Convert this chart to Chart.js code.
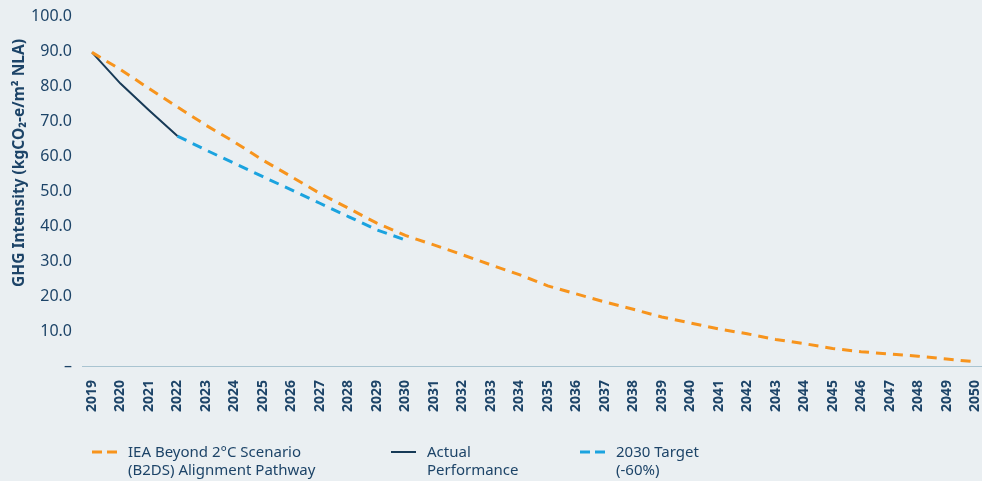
<!DOCTYPE html>
<html>
<head>
<meta charset="utf-8">
<script src="https://cdn.jsdelivr.net/npm/chart.js@4.4.1/dist/chart.umd.min.js"></script>
<style>
  html, body { margin: 0; padding: 0; background: #eaeff2; }
  #wrap { position: relative; width: 982px; height: 481px; overflow: hidden; }
  #chart { position: absolute; left: 0; top: 0; }
  .leg { position: absolute; top: 442px; font-family: 'Noto Sans', sans-serif; font-size: 15px; line-height: 18px; color: #1d4468; }
  .leg svg { position: absolute; left: 0; top: 8px; }
  .leg .tx { position: absolute; left: 36px; top: 0; white-space: nowrap; }
</style>
</head>
<body>
<div id="wrap">
  <canvas id="chart" width="982" height="481"></canvas>
  <div class="leg" style="left:92px"><svg width="25" height="4"><line x1="0" y1="2" x2="25" y2="2" stroke="#f7941d" stroke-width="3" stroke-dasharray="10 5"/></svg><div class="tx">IEA Beyond 2°C Scenario<br>(B2DS) Alignment Pathway</div></div>
  <div class="leg" style="left:391px"><svg width="25" height="4"><line x1="0" y1="2" x2="25" y2="2" stroke="#173a57" stroke-width="2"/></svg><div class="tx">Actual<br>Performance</div></div>
  <div class="leg" style="left:580px"><svg width="25" height="4"><line x1="0" y1="2" x2="25" y2="2" stroke="#1ba3df" stroke-width="3" stroke-dasharray="10 5"/></svg><div class="tx">2030 Target<br>(-60%)</div></div>
</div>
<script>
// GHG intensity pathway vs actual performance

const years = ['2019', '2020', '2021', '2022', '2023', '2024', '2025', '2026', '2027', '2028',
  '2029', '2030', '2031', '2032', '2033', '2034', '2035', '2036', '2037', '2038', '2039',
  '2040', '2041', '2042', '2043', '2044', '2045', '2046', '2047', '2048', '2049', '2050'];

const b2dsPathway = [89.6, 84.7, 79.3, 74.0, 68.8, 64.0, 58.8, 54.1, 49.3, 45.1, 40.8,
  37.3, 34.6, 31.8, 28.9, 26.1, 22.9, 20.6, 18.3, 16.2, 14.0,
  12.3, 10.6, 9.2, 7.6, 6.4, 5.0, 4.1, 3.4, 2.8, 2.0, 1.2];

const actualPerformance = [89.6, 80.7, 73.1, 65.7];

const target2030 = [null, null, null, 65.7, 61.7, 57.9, 54.1, 50.3, 46.5, 42.7, 38.9, 36.0];

const yTitle = 'GHG Intensity (kgCO\u2082-e/m\u00b2 NLA)';
const navy = '#1d4468';

const extras = {
  id: 'extras',
  afterDraw(chart) {
    const ctx = chart.ctx;
    const y0 = chart.scales.y.getPixelForValue(0);
    ctx.save();
    ctx.strokeStyle = '#a9c4d1';
    ctx.lineWidth = 1;
    ctx.beginPath();
    ctx.moveTo(82, Math.round(y0) + 0.5);
    ctx.lineTo(982, Math.round(y0) + 0.5);
    ctx.stroke();
    ctx.translate(20, 163);
    ctx.rotate(-Math.PI / 2);
    ctx.fillStyle = navy;
    ctx.font = 'bold 15.5px "Noto Sans"';
    ctx.textAlign = 'center';
    ctx.textBaseline = 'middle';
    ctx.fillText(yTitle, 0, 0);
    ctx.restore();
  }
};

new Chart(document.getElementById('chart'), {
  type: 'line',
  data: {
    labels: years,
    datasets: [
      {
        label: 'IEA Beyond 2°C Scenario (B2DS) Alignment Pathway',
        data: b2dsPathway,
        borderColor: '#f7941d',
        borderWidth: 3,
        borderDash: [10, 7],
        pointRadius: 0,
        tension: 0
      },
      {
        label: 'Actual Performance',
        data: actualPerformance,
        borderColor: '#173a57',
        borderWidth: 2,
        pointRadius: 0,
        tension: 0
      },
      {
        label: '2030 Target (-60%)',
        data: target2030,
        borderColor: '#1ba3df',
        borderWidth: 3,
        borderDash: [10, 7],
        pointRadius: 0,
        tension: 0
      }
    ]
  },
  options: {
    responsive: false,
    animation: false,
    layout: { padding: { top: 16, right: 7, bottom: 55, left: 0 } },
    plugins: {
      legend: { display: false },
      tooltip: { enabled: false }
    },
    scales: {
      x: {
        offset: false,
        grid: { display: false },
        border: { display: false },
        ticks: {
          autoSkip: false,
          minRotation: 90,
          maxRotation: 90,
          padding: 6,
          color: navy,
          font: { family: 'Noto Sans', size: 14, weight: 'bold' }
        },
        afterFit(scale) {
          scale.height = 60;
          scale.paddingLeft = 0;
          scale.paddingRight = 0;
        }
      },
      y: {
        min: 0,
        max: 100,
        grid: { display: false },
        border: { display: false },
        ticks: {
          stepSize: 10,
          padding: 12,
          color: navy,
          font: { family: 'Noto Sans', size: 16 },
          callback: v => v === 0 ? '\u2013' : v.toFixed(1)
        },
        afterFit(scale) {
          scale.width = 92;
          scale.paddingTop = 0;
          scale.paddingBottom = 0;
        }
      }
    }
  },
  plugins: [extras]
});
</script>
</body>
</html>
